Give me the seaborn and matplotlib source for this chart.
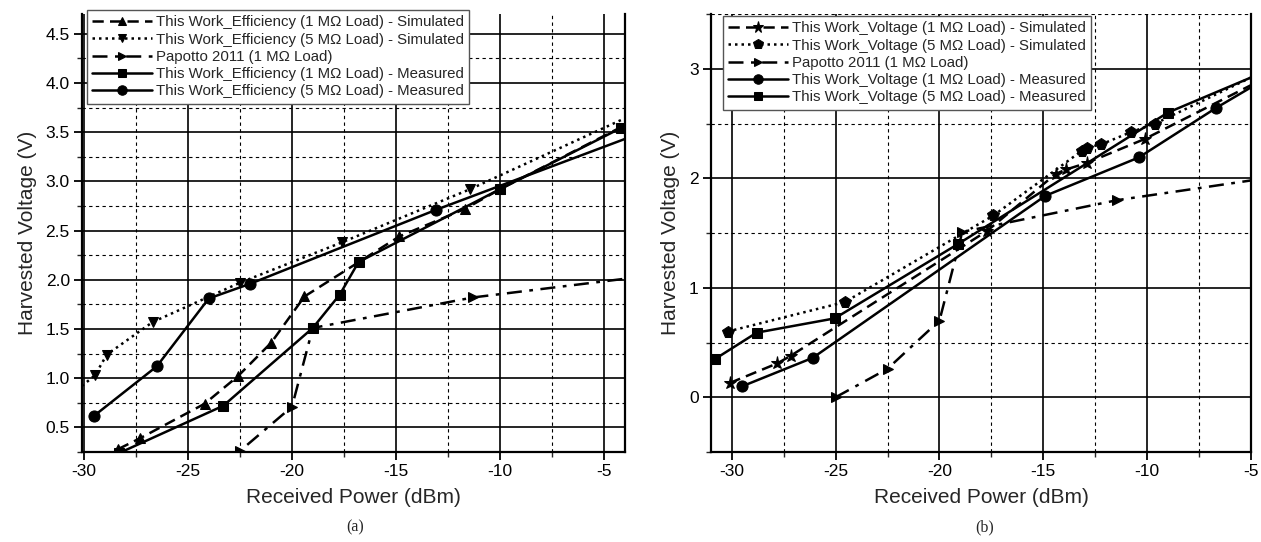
import matplotlib
matplotlib.use("Agg")
import matplotlib.pyplot as plt
from matplotlib.ticker import MultipleLocator, FormatStrFormatter
import seaborn as sns

sns.set_style("ticks")
plt.rcParams['font.family'] = ['Liberation Sans', 'DejaVu Sans']
plt.rcParams['axes.unicode_minus'] = False

# ---------------- data: panel (a) ----------------
xa_sim1 = [-28.35, -27.3, -24.2, -22.6, -21.0, -19.4, -14.84, -11.68, -10.0, -4.0]
ya_sim1 = [0.28, 0.39, 0.74, 1.02, 1.36, 1.83, 2.44, 2.72, 2.92, 3.57]
xa_sim5 = [-30.1, -29.47, -28.9, -26.7, -22.5, -17.6, -11.44, -4.0]
ya_sim5 = [0.92, 1.03, 1.24, 1.57, 1.97, 2.38, 2.92, 3.64]
xa_pap = [-25.0, -22.5, -20.0, -19.0, -11.3, -4.0]
ya_pap = [0.0, 0.26, 0.71, 1.51, 1.82, 2.01]
xa_meas1 = [-28.3, -23.3, -19.0, -17.7, -16.8, -10.0, -4.2]
ya_meas1 = [0.24, 0.72, 1.51, 1.85, 2.18, 2.92, 3.54]
xa_meas5 = [-29.5, -26.5, -24.0, -22.0, -13.08, -4.0]
ya_meas5 = [0.62, 1.12, 1.81, 1.96, 2.71, 3.43]

labels_a = ["This Work_Efficiency (1 M\u03a9 Load) - Simulated",
            "This Work_Efficiency (5 M\u03a9 Load) - Simulated",
            "Papotto 2011 (1 M\u03a9 Load)",
            "This Work_Efficiency (1 M\u03a9 Load) - Measured",
            "This Work_Efficiency (5 M\u03a9 Load) - Measured"]

# ---------------- data: panel (b) ----------------
xb_sim1 = [-30.1, -27.8, -27.15, -17.7, -14.4, -13.9, -12.9, -10.1, -5.0]
yb_sim1 = [0.13, 0.31, 0.38, 1.52, 2.04, 2.08, 2.14, 2.36, 2.85]
xb_sim5 = [-30.2, -24.55, -17.4, -13.15, -12.9, -12.2, -10.8, -9.6, -5.0]
yb_sim5 = [0.60, 0.87, 1.66, 2.25, 2.28, 2.31, 2.42, 2.50, 2.92]
xb_pap = [-25.0, -22.5, -20.0, -18.9, -11.44, -5.0]
yb_pap = [0.0, 0.26, 0.70, 1.51, 1.80, 1.98]
xb_meas1 = [-29.5, -26.1, -14.9, -10.4, -6.7, -5.0]
yb_meas1 = [0.10, 0.36, 1.84, 2.19, 2.64, 2.83]
xb_meas5 = [-30.8, -28.8, -25.05, -19.1, -9.0, -5.0]
yb_meas5 = [0.35, 0.59, 0.72, 1.40, 2.60, 2.92]

labels_b = ["This Work_Voltage (1 M\u03a9 Load) - Simulated",
            "This Work_Voltage (5 M\u03a9 Load) - Simulated",
            "Papotto 2011 (1 M\u03a9 Load)",
            "This Work_Voltage (1 M\u03a9 Load) - Measured",
            "This Work_Voltage (5 M\u03a9 Load) - Measured"]

W, H = 1261, 542
fig = plt.figure(figsize=(W / 100, H / 100), dpi=100)
ax1 = fig.add_axes([82.3 / W, 1 - 452 / H, (624.8 - 82.3) / W, (452 - 14) / H])
ax2 = fig.add_axes([711 / W, 1 - 452 / H, (1251 - 711) / W, (452 - 14) / H])

DASH = (0, (4.5, 2.5))
DOT = (0, (1, 1.6))
DASHDOT = (0, (6, 3, 1.5, 3))


def draw(ax, x, y, marker, ls, label, ms=7, every=None):
    n = len(x)
    idx = list(range(n)) if every is None else every
    sns.lineplot(x=x, y=y, ax=ax, color='black', marker=marker, linestyle=ls,
                 linewidth=1.8, markersize=ms, markeredgecolor='black',
                 markerfacecolor='black', sort=False, estimator=None,
                 label=label, markevery=idx, clip_on=True)


# panel (a)
draw(ax1, xa_sim1, ya_sim1, '^', DASH, labels_a[0], ms=7.5, every=list(range(len(xa_sim1) - 1)))
draw(ax1, xa_sim5, ya_sim5, 'v', DOT, labels_a[1], ms=7.5, every=list(range(1, len(xa_sim5) - 1)))
draw(ax1, xa_pap, ya_pap, '>', DASHDOT, labels_a[2], ms=7.5, every=list(range(len(xa_pap) - 1)))
draw(ax1, xa_meas1, ya_meas1, 's', '-', labels_a[3], ms=6.5)
draw(ax1, xa_meas5, ya_meas5, 'o', '-', labels_a[4], ms=8, every=list(range(len(xa_meas5) - 1)))

# panel (b)
draw(ax2, xb_sim1, yb_sim1, '*', DASH, labels_b[0], ms=9.5, every=list(range(len(xb_sim1) - 1)))
draw(ax2, xb_sim5, yb_sim5, 'p', DOT, labels_b[1], ms=8.5, every=list(range(len(xb_sim5) - 1)))
draw(ax2, xb_pap, yb_pap, '>', DASHDOT, labels_b[2], ms=7.5, every=list(range(len(xb_pap) - 1)))
draw(ax2, xb_meas1, yb_meas1, 'o', '-', labels_b[3], ms=8, every=list(range(len(xb_meas1) - 1)))
draw(ax2, xb_meas5, yb_meas5, 's', '-', labels_b[4], ms=6.5, every=list(range(len(xb_meas5) - 1)))

ax1.set_xlim(-30.08, -4.0)
ax1.set_ylim(0.25, 4.7)
ax1.xaxis.set_major_locator(MultipleLocator(5))
ax1.xaxis.set_minor_locator(MultipleLocator(2.5))
ax1.yaxis.set_major_locator(MultipleLocator(0.5))
ax1.yaxis.set_minor_locator(MultipleLocator(0.25))
ax1.yaxis.set_major_formatter(FormatStrFormatter('%.1f'))

ax2.set_xlim(-31.0, -5.0)
ax2.set_ylim(-0.5, 3.5)
ax2.xaxis.set_major_locator(MultipleLocator(5))
ax2.xaxis.set_minor_locator(MultipleLocator(2.5))
ax2.yaxis.set_major_locator(MultipleLocator(1))
ax2.yaxis.set_minor_locator(MultipleLocator(0.5))

for ax in (ax1, ax2):
    ax.set_axisbelow(True)
    ax.grid(which='major', color='black', linewidth=1.2, linestyle='-')
    ax.grid(which='minor', color='black', linewidth=0.8, linestyle=(0, (3, 3)))
    ax.tick_params(which='major', direction='out', length=6, width=1.3,
                   labelsize=12.5, colors='black', pad=3)
    ax.tick_params(which='minor', direction='out', length=3.5, width=1.0)
    ax.spines['top'].set_visible(False)
    for s in ('left', 'bottom', 'right'):
        ax.spines[s].set_linewidth(1.6)
        ax.spines[s].set_color('black')
    ax.set_xlabel("Received Power (dBm)", fontsize=15, labelpad=6)
    ax.set_ylabel("Harvested Voltage (V)", fontsize=15, labelpad=6)

leg_kw = dict(loc='upper left', bbox_transform=fig.transFigure, borderaxespad=0,
              fontsize=10.8, frameon=True, fancybox=False, framealpha=1,
              edgecolor='#555555', handlelength=4.0, handletextpad=0.25,
              labelspacing=0.22, borderpad=0.35, markerscale=0.85)
lg1 = ax1.legend(bbox_to_anchor=(87 / W, 1 - 10 / H), **leg_kw)
lg2 = ax2.legend(bbox_to_anchor=(723 / W, 1 - 16 / H), **leg_kw)
for lg in (lg1, lg2):
    lg.get_frame().set_linewidth(1.0)

fig.text(355 / W, 1 - 527 / H, "(a)", ha='center', va='center', fontsize=11.5,
         family=['Liberation Serif', 'DejaVu Serif'])
fig.text(985 / W, 1 - 527 / H, "(b)", ha='center', va='center', fontsize=11.5,
         family=['Liberation Serif', 'DejaVu Serif'])

fig.savefig("out.png", dpi=100)
